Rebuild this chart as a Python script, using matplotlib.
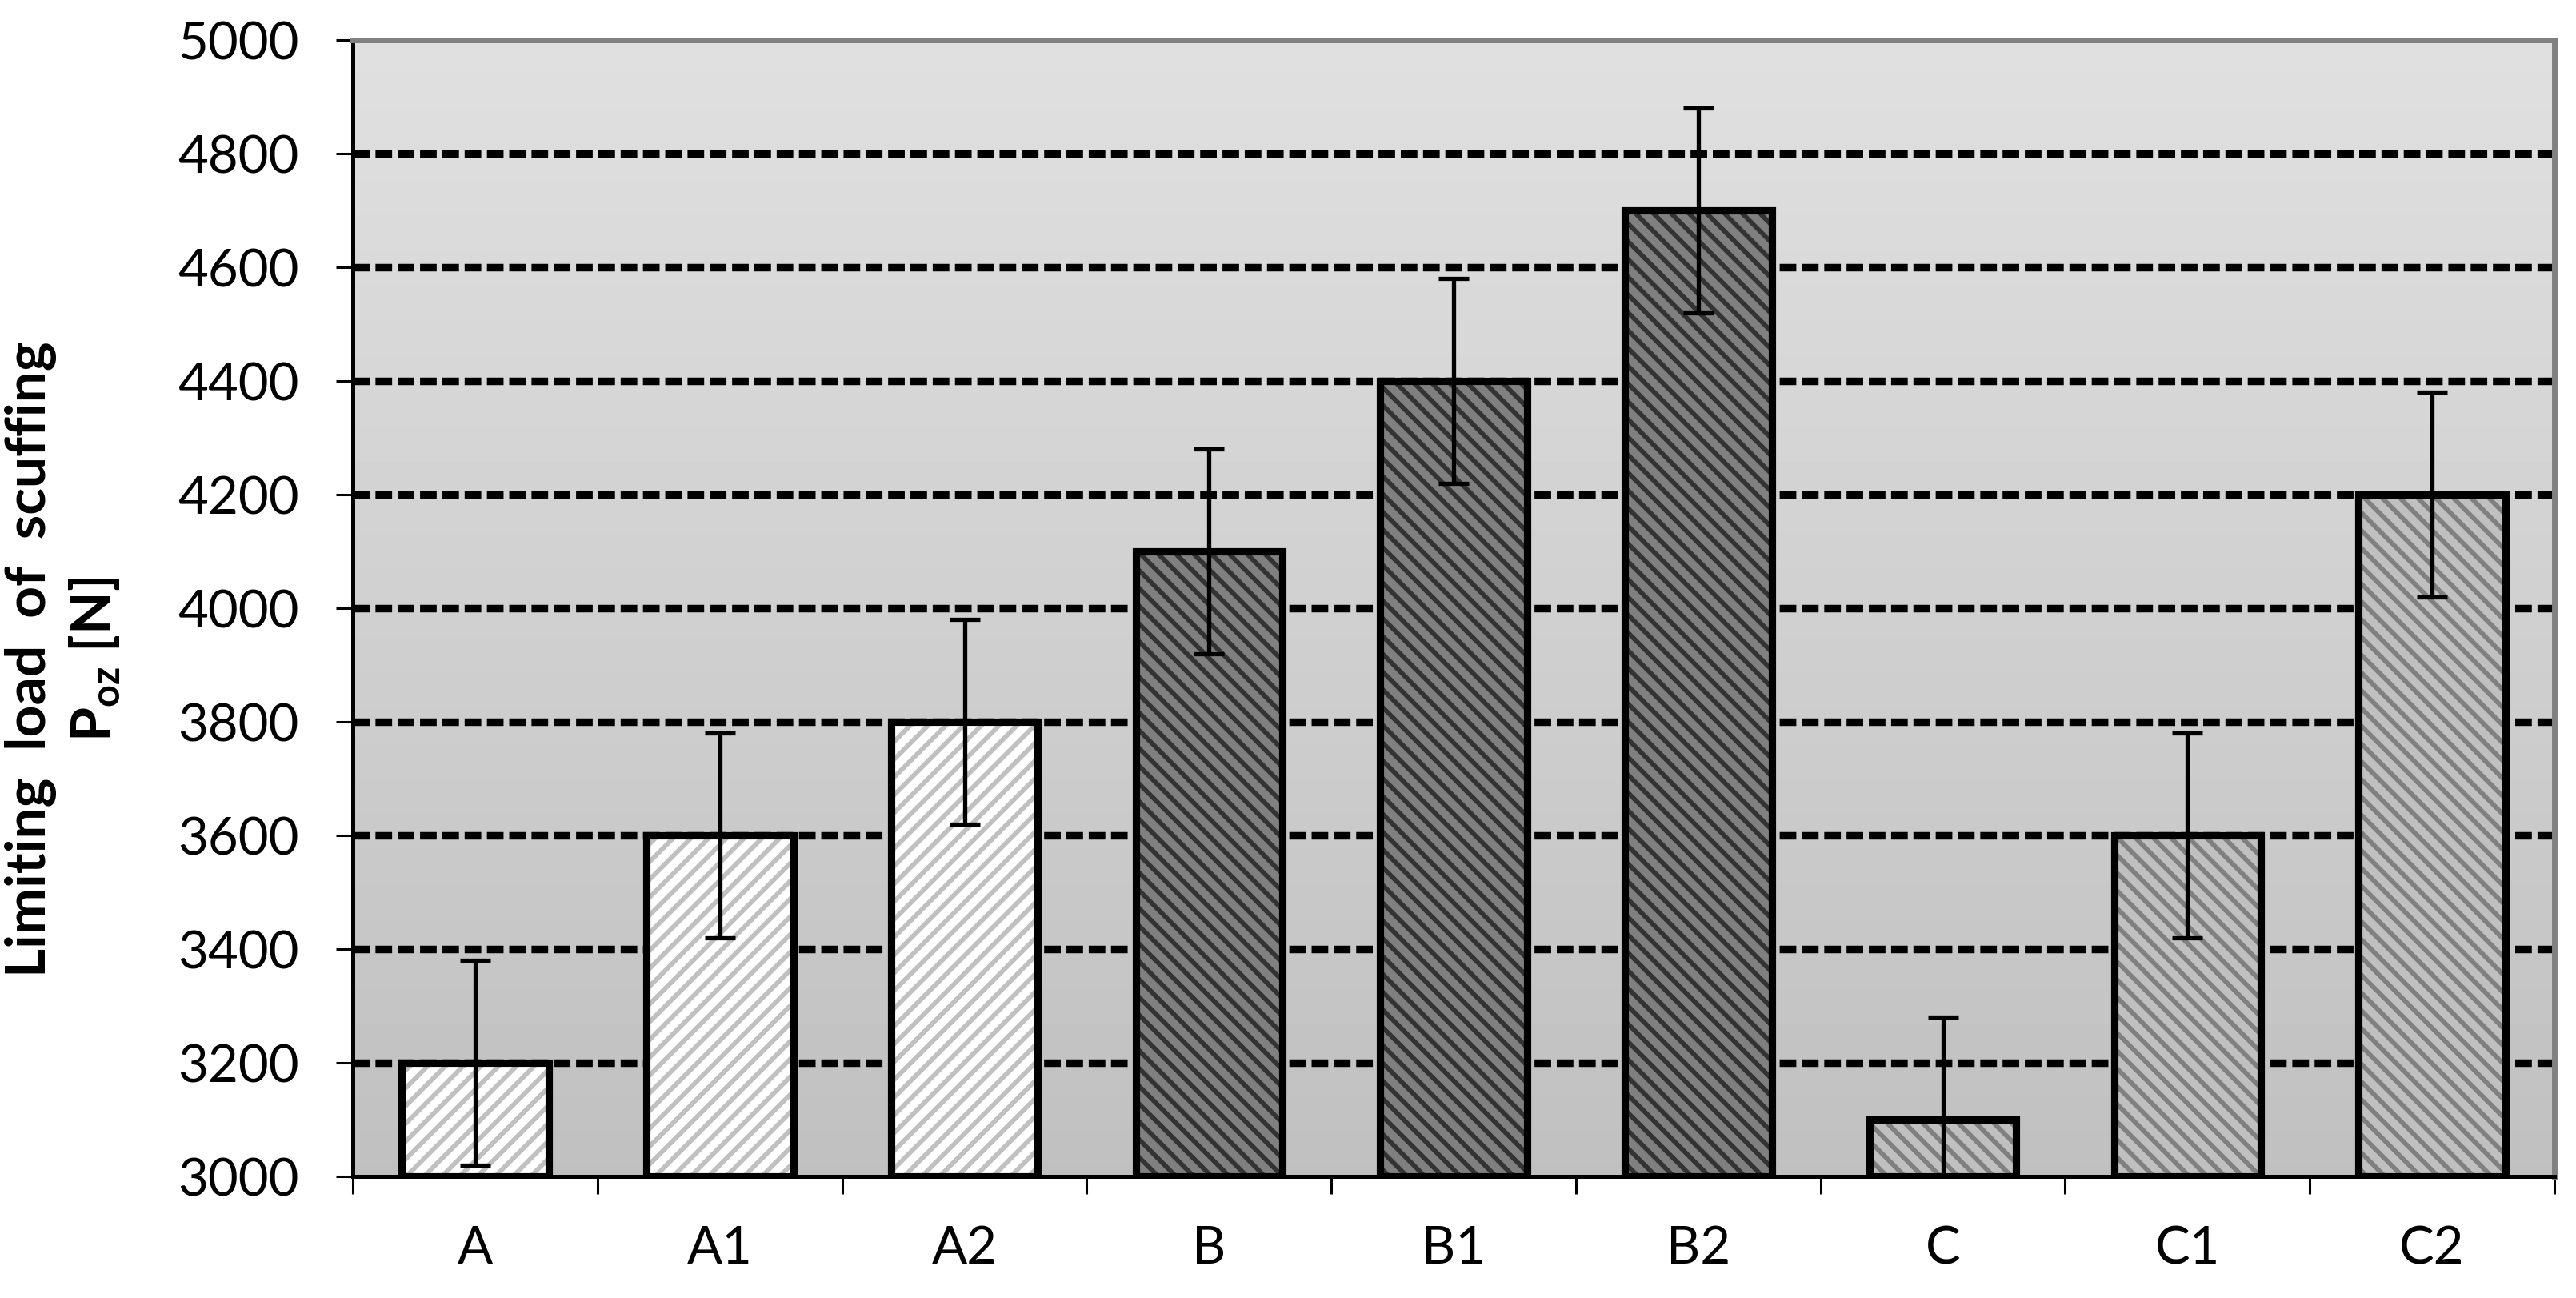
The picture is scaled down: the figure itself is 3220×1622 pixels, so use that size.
import numpy as np
import matplotlib
matplotlib.use("Agg")
import matplotlib.pyplot as plt

plt.rcParams['font.family'] = ['Lato', 'DejaVu Sans']
plt.rcParams['mathtext.fontset'] = 'custom'
plt.rcParams['mathtext.rm'] = 'Lato'
plt.rcParams['mathtext.bf'] = 'Lato:bold'
plt.rcParams['hatch.linewidth'] = 2.1

categories = ['A', 'A1', 'A2', 'B', 'B1', 'B2', 'C', 'C1', 'C2']
values = [3200, 3600, 3800, 4100, 4400, 4700, 3100, 3600, 4200]
errors = [180, 180, 180, 180, 180, 180, 180, 180, 180]
yticks = [3000, 3200, 3400, 3600, 3800, 4000, 4200, 4400, 4600, 4800, 5000]

# face colour, hatch colour, hatch per group
face_colors = ['white'] * 3 + ['#808080'] * 3 + ['#c0c0c0'] * 3
hatch_colors = ['#c0c0c0'] * 3 + ['#333333'] * 3 + ['#808080'] * 3
hatches = ['///'] * 3 + ['\\\\\\'] * 3 + ['\\\\\\'] * 3

fig = plt.figure(figsize=(16.1, 8.11), dpi=200)
ax = fig.add_axes([0.137, 0.0937, 0.8546, 0.8754])

x = np.arange(len(categories))
ax.set_xlim(-0.5, len(categories) - 0.5)
ax.set_ylim(3000, 5000)

# gradient background
grad = np.linspace(224, 192, 256).reshape(-1, 1) / 255.0
ax.imshow(grad, cmap='gray', vmin=0, vmax=1, extent=[-0.5, len(categories) - 0.5, 3000, 5000],
          aspect='auto', zorder=0, interpolation='bilinear')

ax.hlines(yticks[1:-1], -0.5, len(categories) - 0.5, colors='black', linewidth=3.4,
          linestyles=(0, (2.2, 0.75)), zorder=1)

for i in range(len(categories)):
    ax.bar(x[i], values[i] - 3000, bottom=3000, width=0.6, color=face_colors[i],
           edgecolor=hatch_colors[i], hatch=hatches[i], linewidth=0, zorder=2)
    ax.bar(x[i], values[i] - 3000, bottom=3000, width=0.6, fill=False,
           edgecolor='black', linewidth=3.3, zorder=3)

ax.errorbar(x, values, yerr=errors, fmt='none', ecolor='black', elinewidth=1.9,
            capsize=7, capthick=1.9, zorder=4)

ax.set_yticks(yticks)
ax.tick_params(axis='y', direction='out', length=7.4, width=1.1, pad=17, labelsize=23.5)
ax.set_xticks(np.arange(-0.5, len(categories)), [''] * (len(categories) + 1))
ax.set_xticks(x, categories, minor=True)
ax.tick_params(axis='x', which='major', direction='out', length=8, width=1.1)
ax.tick_params(axis='x', which='minor', length=0, pad=22, labelsize=23.5)

for s in ['top', 'right']:
    ax.spines[s].set_color('#808080')
    ax.spines[s].set_linewidth(2.5)
for s in ['left', 'bottom']:
    ax.spines[s].set_color('black')
    ax.spines[s].set_linewidth(1.8)

ax.set_ylabel('Limiting  load  of  scuffing\nP$_{\\mathbf{oz}}$ [N]', fontsize=25,
              fontweight='bold', linespacing=1.25)
ax.yaxis.set_label_coords(-0.105, 0.455)

plt.savefig('out.png', dpi=200)
